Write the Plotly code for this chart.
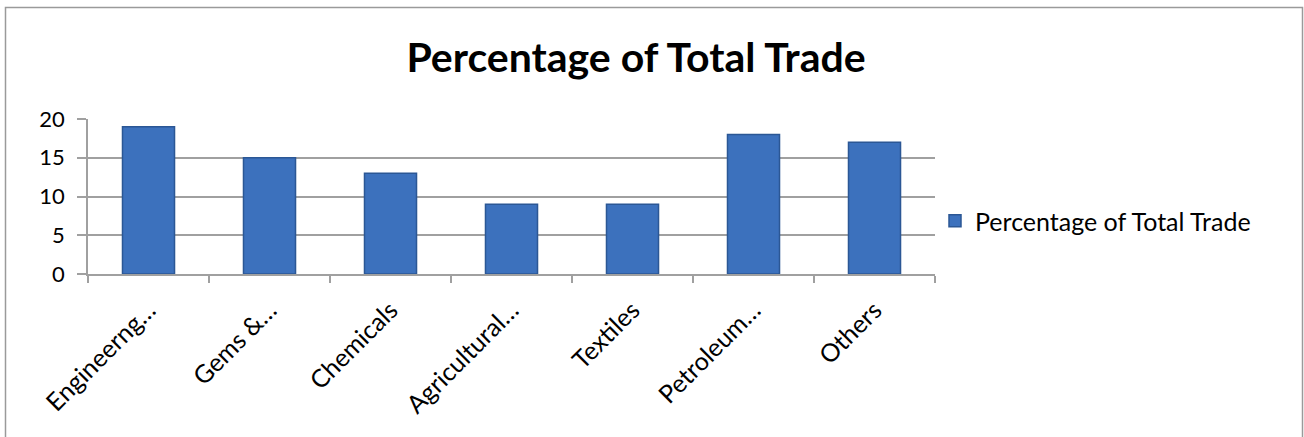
import plotly.graph_objects as go

categories = ["Engineerng…", "Gems &…", "Chemicals", "Agricultural…", "Textiles", "Petroleum…", "Others"]
values = [19, 15, 13, 9, 9, 18, 17]
series_name = "Percentage of Total Trade"
title_text = "Percentage of Total Trade"
y_ticks = [0, 5, 10, 15, 20]

W, H = 1304, 437
L, R, T, B = 88, 935, 119, 274  # plot area in pixels
FONT = "Lato, 'Open Sans', sans-serif"

def px_x(x):
    return (x - L) / (R - L)

def px_y(y):
    return (B - y) / (B - T)

fig = go.Figure()
fig.add_trace(go.Bar(
    x=categories, y=values, name=series_name,
    marker=dict(color="#3C71BD", line=dict(color="#2B5795", width=1.5)),
    width=0.43,
))

fig.update_layout(
    width=W, height=H,
    margin=dict(l=L, r=W - R, t=T, b=H - B),
    paper_bgcolor="white", plot_bgcolor="white",
    font=dict(family=FONT, size=22, color="black"),
    title=dict(text="<b>" + title_text + "</b>", x=636 / W, xanchor="center",
               y=1 - 58 / H, yanchor="middle",
               font=dict(size=41, family=FONT, color="black")),
    showlegend=True,
    legend=dict(x=px_x(935), y=px_y(221), xanchor="left", yanchor="middle",
                font=dict(size=25, family=FONT), bgcolor="rgba(0,0,0,0)"),
    bargap=0.57,
)
fig.update_yaxes(range=[0, 20], tickvals=y_ticks, showgrid=True, gridcolor="#A0A0A0",
                 gridwidth=1.5, showline=True, linecolor="#A0A0A0", linewidth=1.5,
                 ticks="outside", ticklen=9, tickcolor="#A0A0A0", tickwidth=1.5,
                 zeroline=False, tickfont=dict(size=22), ticklabelstandoff=8)
fig.update_xaxes(showline=True, linecolor="#A0A0A0", linewidth=1.5, ticks="outside",
                 tickson="boundaries", ticklen=7, tickcolor="#A0A0A0", tickwidth=1.5,
                 tickangle=-45, tickfont=dict(size=25), ticklabelstandoff=10)

fig.add_shape(type="rect", xref="paper", yref="paper",
              x0=px_x(5.5), x1=px_x(1302.5), y0=px_y(450), y1=px_y(7.5),
              line=dict(color="#9A9A9A", width=1.5), fillcolor="rgba(0,0,0,0)", layer="below")

fig.write_html("out.html")
